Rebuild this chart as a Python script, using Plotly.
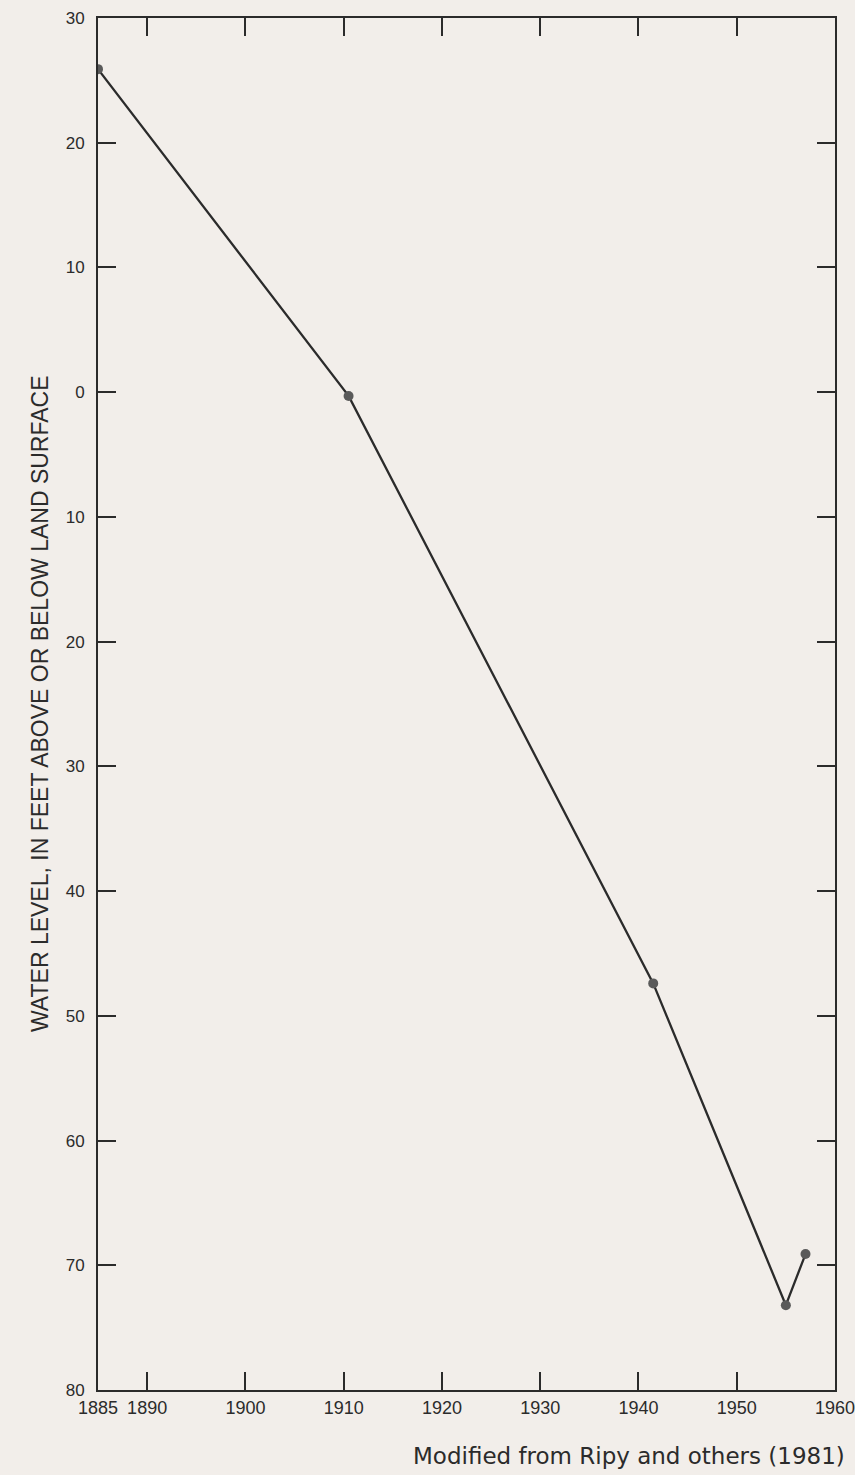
import plotly.graph_objects as go

years = [1885, 1910.5, 1941.5, 1955, 1957]
water_level = [25.9, -0.3, -47.4, -73.2, -69.1]  # feet above (+) or below (-) land surface

x_tickvals = [1885, 1890, 1900, 1910, 1920, 1930, 1940, 1950, 1960]
x_ticktext = ["1885", "1890", "1900", "1910", "1920", "1930", "1940", "1950", "1960"]
y_tickvals = [30, 20, 10, 0, -10, -20, -30, -40, -50, -60, -70, -80]
y_ticktext = ["30", "20", "10", "0", "10", "20", "30", "40", "50", "60", "70", "80"]

y_title = "WATER LEVEL, IN FEET ABOVE OR BELOW LAND SURFACE"
caption = "Modified from Ripy and others (1981)"

BG = "#f2eeea"
INK = "#2b2b2b"
FONT = "Liberation Sans, Arial, sans-serif"

W, H = 855, 1475
ML, MR, MT, MB = 98, 20, 18, 85

fig = go.Figure()
fig.add_trace(go.Scatter(
    x=years, y=water_level, mode="lines+markers",
    line=dict(color=INK, width=2.3),
    marker=dict(color="#5a5a5a", size=10, line=dict(width=0)),
    showlegend=False, hoverinfo="x+y",
))

fig.update_layout(
    width=W, height=H, autosize=False,
    margin=dict(l=ML, r=MR, t=MT, b=MB),
    paper_bgcolor=BG, plot_bgcolor=BG,
    font=dict(family=FONT, color=INK),
)

fig.update_xaxes(
    range=[1885, 1960], tickvals=x_tickvals, ticktext=x_ticktext,
    ticks="inside", ticklen=18, tickwidth=1.5, tickcolor=INK,
    showline=True, linecolor=INK, linewidth=2, mirror="ticks",
    showgrid=False, zeroline=False, ticklabeloverflow="allow",
    automargin=False,
    tickfont=dict(size=18, color=INK, family=FONT),
)
fig.update_yaxes(
    range=[-80, 30], tickvals=y_tickvals, ticktext=y_ticktext,
    ticks="inside", ticklen=18, tickwidth=1.5, tickcolor=INK,
    showline=True, linecolor=INK, linewidth=2, mirror="ticks",
    showgrid=False, zeroline=False, automargin=False,
    tickfont=dict(size=17, color=INK, family=FONT),
    ticklabelstandoff=8,
)

plot_w = W - ML - MR
plot_h = H - MT - MB

fig.add_annotation(
    text=y_title, textangle=-90, showarrow=False,
    xref="paper", yref="paper",
    x=-(ML - 40) / plot_w, y=0.5, xanchor="center", yanchor="middle",
    font=dict(size=23, color=INK, family=FONT),
)
fig.add_annotation(
    text=caption, showarrow=False,
    xref="paper", yref="paper",
    x=(847 - ML) / plot_w, y=-(1456 - (H - MB)) / plot_h,
    xanchor="right", yanchor="middle",
    font=dict(size=23, color=INK, family="DejaVu Sans, Liberation Sans, sans-serif"),
)

fig.write_html(
    "out.html",
    config={"responsive": False, "displayModeBar": False},
    post_script="document.body.style.margin='0';document.body.style.background='" + BG + "';document.body.style.overflow='hidden';",
)
